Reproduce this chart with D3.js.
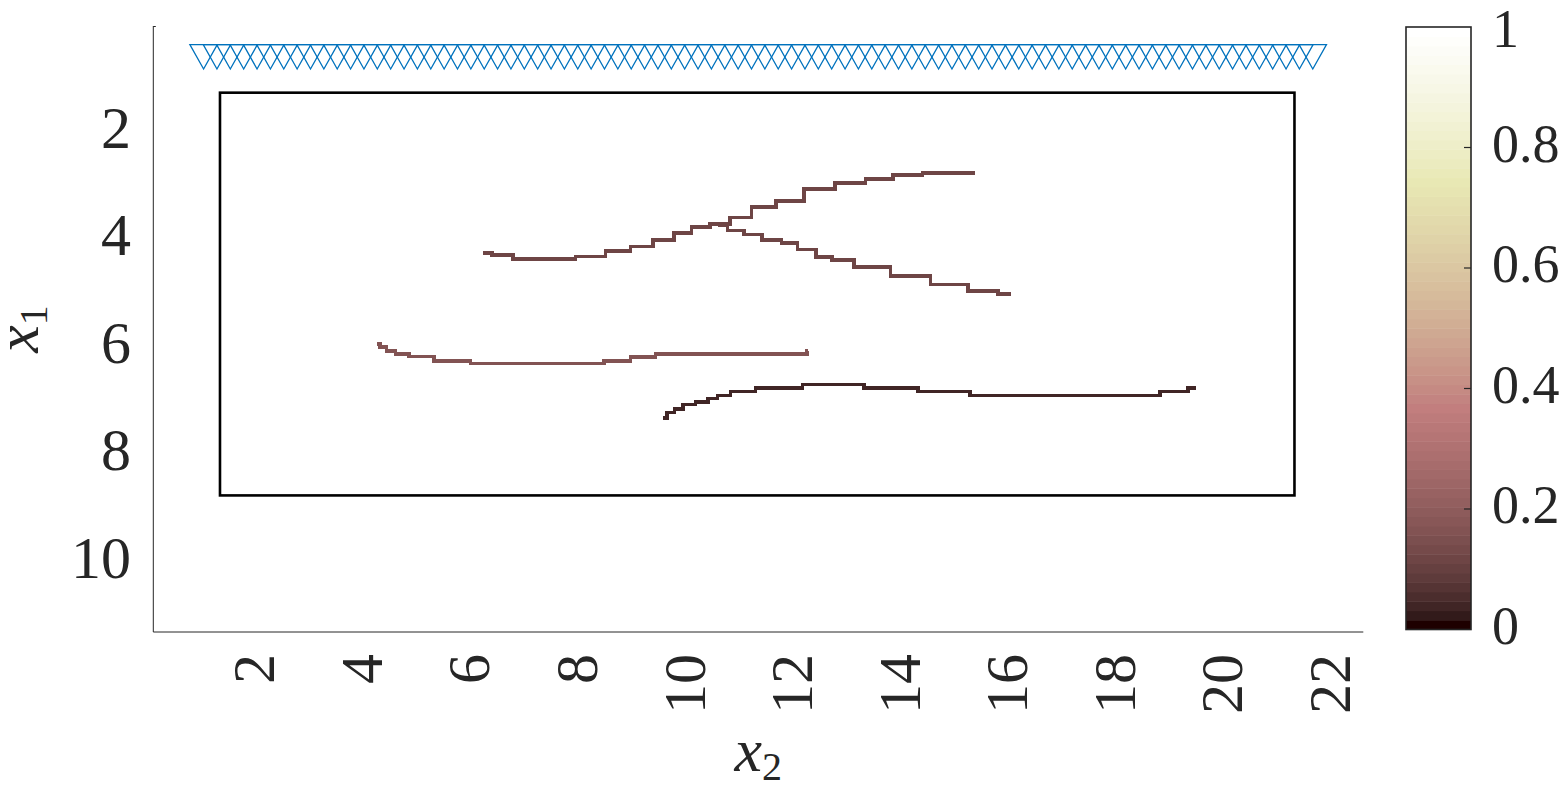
<!DOCTYPE html>
<html>
<head>
<meta charset="utf-8">
<script src="https://cdn.jsdelivr.net/npm/d3@7"></script>
<style>
  body { margin: 0; background: #fff; }
  text { font-family: "Liberation Serif", "DejaVu Serif", serif; fill: #262626; }
</style>
</head>
<body>
<div id="chart-area"></div>
<script>
// tick values
var x2Ticks = [2, 4, 6, 8, 10, 12, 14, 16, 18, 20, 22];
var x1Ticks = [2, 4, 6, 8, 10];
var cbTicks = [0, 0.2, 0.4, 0.6, 0.8, 1];
var cbLabels = ["0", "0.2", "0.4", "0.6", "0.8", "1"];

// boxed region [x2 range], [x1 range]
var regionX2 = [1.24, 21.22];
var regionX1 = [1.24, 8.73];

// receivers along the top
var receiverStart = 0.935;
var receiverStep = 0.2485;
var receiverCount = 84;
var receiverDepth = 0.5;

// curves, points are [x2, x1]
var curveA = [[6.14,4.22],[6.45,4.26],[6.92,4.33],[7.57,4.33],[8.13,4.29],[8.68,4.18],[9.06,4.10],
  [9.52,3.98],[9.85,3.85],[10.17,3.74],[10.54,3.68],[10.91,3.56],[11.34,3.37],[11.81,3.25],
  [12.40,3.03],[12.96,2.92],[13.52,2.84],[13.98,2.77],[14.63,2.73],[15.28,2.73]];
var curveB = [[10.50,3.70],[10.86,3.80],[11.10,3.88],[11.53,3.98],[11.84,4.04],[12.12,4.16],
  [12.53,4.30],[12.72,4.35],[13.33,4.48],[14.08,4.65],[14.82,4.81],[15.47,4.93],[15.94,4.98]];
var curveC = [[4.16,5.91],[4.26,5.97],[4.41,6.04],[4.59,6.10],[4.93,6.15],[5.52,6.23],[6.27,6.28],
  [8.18,6.28],[8.59,6.23],[9.15,6.16],[9.52,6.10],[12.12,6.10],[12.18,6.04]];
var curveD = [[9.48,7.29],[9.63,7.19],[9.76,7.12],[9.95,7.04],[10.21,6.99],[10.41,6.93],[10.58,6.87],
  [10.88,6.80],[11.51,6.73],[12.64,6.67],[13.80,6.73],[14.63,6.80],[15.75,6.87],[18.35,6.87],
  [19.10,6.80],[19.39,6.73]];
var curves = [curveA, curveB, curveC, curveD];
var curveLevels = [0.11, 0.11, 0.16, 0.03];

var width = 1565;
var height = 790;

var svg = d3.select("#chart-area").append("svg")
    .attr("width", width)
    .attr("height", height);

// matlab "pink" colormap, 64 levels
function pink(t) {
    var i = Math.round(Math.max(0, Math.min(1, t)) * 63) + 1;
    var gray = (i - 1) / 63;
    var r = i <= 24 ? i / 24 : 1;
    var g = i <= 24 ? 0 : (i <= 48 ? (i - 24) / 24 : 1);
    var b = i <= 48 ? 0 : (i - 48) / 16;
    var f = (h) => Math.round(255 * Math.sqrt((2 * gray + h) / 3));
    return d3.rgb(f(r), f(g), f(b)).formatHex();
}

var x = d3.scaleLinear().domain([0, 22.5]).range([153.3, 1363.3]);
var y = d3.scaleLinear().domain([0, 11.27]).range([26, 632]);

var g = svg.append("g");

// curves (pixel-like staircase)
var line = d3.line()
    .x((d) => { return x(d[0]); })
    .y((d) => { return y(d[1]); })
    .curve(d3.curveStep);

g.selectAll("path.curve")
    .data(curves)
    .enter()
    .append("path")
    .attr("class", "curve")
    .attr("d", (d) => { return line(d); })
    .attr("fill", "none")
    .attr("stroke", (d, i) => { return pink(curveLevels[i]); })
    .attr("stroke-width", 3.6)
    .attr("stroke-linejoin", "miter")
    .attr("shape-rendering", "crispEdges");

// boxed region
g.append("rect")
    .attr("x", x(regionX2[0]))
    .attr("y", y(regionX1[0]))
    .attr("width", x(regionX2[1]) - x(regionX2[0]))
    .attr("height", y(regionX1[1]) - y(regionX1[0]))
    .attr("fill", "none")
    .attr("stroke", "#000")
    .attr("stroke-width", 2.6);

// receivers
var receivers = d3.range(receiverCount).map((i) => { return receiverStart + i * receiverStep; });
g.selectAll("path.rec")
    .data(receivers)
    .enter()
    .append("path")
    .attr("class", "rec")
    .attr("transform", (d) => { return "translate(" + x(d) + "," + y(receiverDepth) + ")"; })
    .attr("d", "M-13.7,-8.2L13.7,-8.2L0,16.1Z")
    .attr("fill", "none")
    .attr("stroke", "#0072bd")
    .attr("stroke-width", 1.3)
    .attr("stroke-linejoin", "miter");

// axis lines (box off)
g.append("path")
    .attr("d", "M" + x(0) + "," + y(0) + "L" + x(0) + "," + y(11.27) + "L" + x(22.5) + "," + y(11.27))
    .attr("fill", "none")
    .attr("stroke", "#262626")
    .attr("stroke-width", 1);
g.append("line")
    .attr("x1", x(0)).attr("x2", x(0) + 2.5)
    .attr("y1", y(0) + 0.5).attr("y2", y(0) + 0.5)
    .attr("stroke", "#262626").attr("stroke-width", 1);

// x tick labels, rotated
g.selectAll("text.xt")
    .data(x2Ticks)
    .enter()
    .append("text")
    .attr("class", "xt")
    .attr("transform", (d) => { return "translate(" + (x(d) - 6.5) + ",654) rotate(-90)"; })
    .attr("text-anchor", "end")
    .attr("dominant-baseline", "central")
    .attr("font-size", "60px")
    .text((d) => { return d; });

// y tick labels
g.selectAll("text.yt")
    .data(x1Ticks)
    .enter()
    .append("text")
    .attr("class", "yt")
    .attr("x", 131)
    .attr("y", (d) => { return y(d) - 6; })
    .attr("text-anchor", "end")
    .attr("dominant-baseline", "central")
    .attr("font-size", "60px")
    .text((d) => { return d; });

// X Label
var xl = g.append("text")
    .attr("x", (x(0) + x(22.5)) / 2)
    .attr("y", 771)
    .attr("text-anchor", "middle")
    .attr("font-size", "62px");
xl.append("tspan").attr("font-style", "italic").text("x");
xl.append("tspan").attr("font-size", "40px").attr("dy", 9).text("2");

// Y Label
var yl = g.append("text")
    .attr("transform", "translate(38," + (y(0) + y(11.27)) / 2 + ") rotate(-90)")
    .attr("text-anchor", "middle")
    .attr("font-size", "62px");
yl.append("tspan").attr("font-style", "italic").text("x");
yl.append("tspan").attr("font-size", "40px").attr("dy", 9).text("1");

// colorbar
var cbX = 1406, cbW = 65;
var cb = d3.scaleLinear().domain([0, 1]).range([629.5, 27]);
var levels = d3.range(64);
svg.selectAll("rect.cb")
    .data(levels)
    .enter()
    .append("rect")
    .attr("class", "cb")
    .attr("x", cbX)
    .attr("y", (d) => { return cb((d + 1) / 64); })
    .attr("width", cbW)
    .attr("height", (d) => { return cb(d / 64) - cb((d + 1) / 64) + 0.5; })
    .attr("fill", (d) => { return pink(d / 63); });
svg.append("rect")
    .attr("x", cbX).attr("y", cb(1))
    .attr("width", cbW).attr("height", cb(0) - cb(1))
    .attr("fill", "none")
    .attr("stroke", "#262626")
    .attr("stroke-width", 1.6);
svg.selectAll("line.cbt")
    .data(cbTicks.slice(1, -1))
    .enter()
    .append("line")
    .attr("class", "cbt")
    .attr("x1", cbX + cbW - 7).attr("x2", cbX + cbW)
    .attr("y1", (d) => { return cb(d); })
    .attr("y2", (d) => { return cb(d); })
    .attr("stroke", "#262626")
    .attr("stroke-width", 1.2);
svg.selectAll("text.cbl")
    .data(cbTicks)
    .enter()
    .append("text")
    .attr("class", "cbl")
    .attr("x", 1492)
    .attr("y", (d) => { return d === 1 ? cb(d) + 2 : cb(d) - 4; })
    .attr("dominant-baseline", "central")
    .attr("font-size", "54px")
    .text((d, i) => { return cbLabels[i]; });
</script>
</body>
</html>
